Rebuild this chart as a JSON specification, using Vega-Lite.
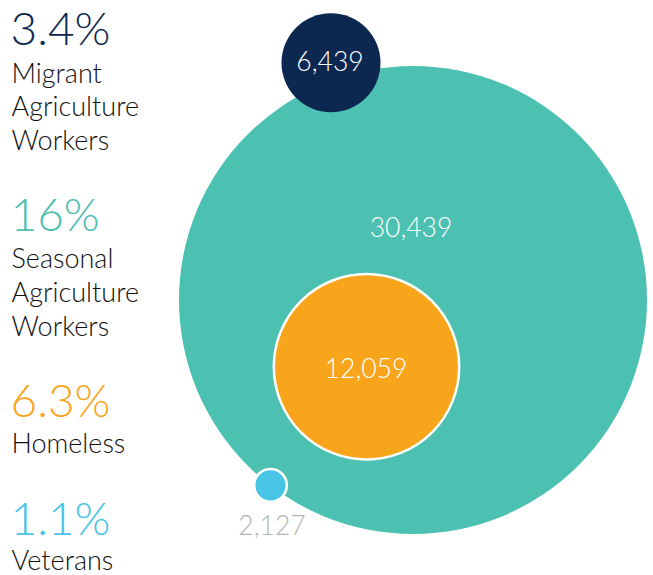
{
  "$schema": "https://vega.github.io/schema/vega-lite/v6.json",
  "width": 653,
  "height": 575,
  "padding": 0,
  "autosize": {"type": "fit", "contains": "padding"},
  "background": "white",
  "config": {"view": {"stroke": null}, "text": {"font": "Lato", "fontWeight": 300}},
  "datasets": {
    "circles": [
      {"category": "Seasonal Agriculture Workers", "count": 30439, "label": "30,439", "cx": 413, "cy": 301, "lx": 411, "ly": 238},
      {"category": "Migrant Agriculture Workers", "count": 6439, "label": "6,439", "cx": 331, "cy": 63, "lx": 330, "ly": 71.5},
      {"category": "Homeless", "count": 12059, "label": "12,059", "cx": 366.5, "cy": 368, "lx": 366, "ly": 379.5},
      {"category": "Veterans", "count": 2127, "label": "2,127", "cx": 270.5, "cy": 487, "lx": 272, "ly": 537}
    ],
    "pcts": [
      {"category": "Migrant Agriculture Workers", "pct": "3.4%", "y": 45},
      {"category": "Seasonal Agriculture Workers", "pct": "16%", "y": 231.5},
      {"category": "Homeless", "pct": "6.3%", "y": 418.3},
      {"category": "Veterans", "pct": "1.1%", "y": 536.7}
    ],
    "lines": [
      {"line": "Migrant", "y": 83.3},
      {"line": "Agriculture", "y": 116.8},
      {"line": "Workers", "y": 150.7},
      {"line": "Seasonal", "y": 269.3},
      {"line": "Agriculture", "y": 302.7},
      {"line": "Workers", "y": 336.7},
      {"line": "Homeless", "y": 455},
      {"line": "Veterans", "y": 572}
    ]
  },
  "layer": [
    {
      "data": {"name": "circles"},
      "mark": {"type": "point", "shape": "circle", "filled": true, "opacity": 1, "stroke": "white"},
      "encoding": {
        "x": {"field": "cx", "type": "quantitative", "scale": {"domain": [0, 653], "nice": false, "zero": false}, "axis": null},
        "y": {"field": "cy", "type": "quantitative", "scale": {"domain": [0, 575], "nice": false, "zero": false, "reverse": true}, "axis": null},
        "size": {"field": "count", "type": "quantitative", "scale": {"type": "pow", "exponent": 2, "domain": [0, 30439], "range": [0, 219024]}, "legend": null},
        "color": {"field": "category", "type": "nominal", "scale": {"domain": ["Migrant Agriculture Workers", "Seasonal Agriculture Workers", "Homeless", "Veterans"], "range": ["#0c2850", "#4cc0b1", "#f9a51b", "#48c4e4"]}, "legend": null},
        "strokeWidth": {"condition": {"test": "datum.category === 'Migrant Agriculture Workers' || datum.category === 'Seasonal Agriculture Workers'", "value": 0}, "value": 2.5}
      }
    },
    {
      "data": {"name": "circles"},
      "mark": {"type": "text", "align": "center", "baseline": "alphabetic", "fontSize": 26.5},
      "encoding": {
        "x": {"field": "lx", "type": "quantitative"},
        "y": {"field": "ly", "type": "quantitative"},
        "text": {"field": "label"},
        "color": {"condition": {"test": "datum.category === 'Veterans'", "value": "#b5b5b5"}, "value": "white"}
      }
    },
    {
      "data": {"name": "pcts"},
      "mark": {"type": "text", "align": "left", "baseline": "alphabetic", "fontSize": 46},
      "encoding": {
        "x": {"datum": 10.5, "type": "quantitative"},
        "y": {"field": "y", "type": "quantitative"},
        "text": {"field": "pct"},
        "color": {"field": "category", "type": "nominal", "legend": null}
      }
    },
    {
      "data": {"name": "lines"},
      "mark": {"type": "text", "align": "left", "baseline": "alphabetic", "fontSize": 27, "color": "#111111"},
      "encoding": {
        "x": {"datum": 11.5, "type": "quantitative"},
        "y": {"field": "y", "type": "quantitative"},
        "text": {"field": "line"}
      }
    }
  ]
}
